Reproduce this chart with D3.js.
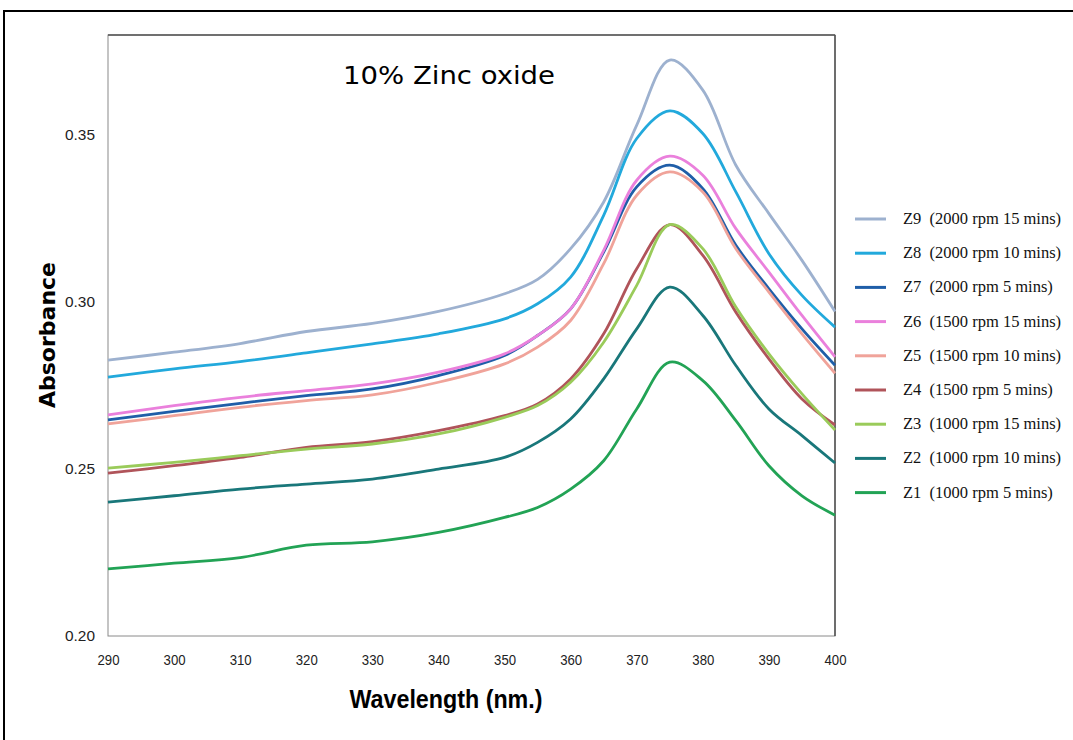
<html>
<head>
<script src="https://cdn.jsdelivr.net/npm/d3@7"></script>
<style>
    body { margin: 0; background: white; }
</style>
</head>
<body>
<svg id="container" width="1073" height="740">
    <g id="body" />
</svg>
<script>
    // wavelength (nm) sample points shared by all series
    let wavelengths = [290, 300, 310, 320, 330, 340, 350, 355, 360, 365, 370, 375, 380, 385, 390, 395, 400]

    let z9 = [0.2826, 0.2850, 0.2876, 0.2912, 0.2936, 0.2972, 0.3025, 0.3068, 0.3160, 0.3300, 0.3530, 0.3725, 0.3635, 0.3410, 0.3265, 0.3125, 0.2972]
    let z8 = [0.2775, 0.2800, 0.2822, 0.2848, 0.2875, 0.2905, 0.2950, 0.2995, 0.3075, 0.3260, 0.3490, 0.3573, 0.3505, 0.3330, 0.3145, 0.3020, 0.2925]
    let z7 = [0.2647, 0.2673, 0.2697, 0.2720, 0.2740, 0.2780, 0.2840, 0.2900, 0.2980, 0.3150, 0.3345, 0.3410, 0.3340, 0.3170, 0.3040, 0.2920, 0.2811]
    let z6 = [0.2662, 0.2690, 0.2715, 0.2735, 0.2755, 0.2790, 0.2845, 0.2900, 0.2980, 0.3155, 0.3365, 0.3437, 0.3380, 0.3220, 0.3090, 0.2960, 0.2836]
    let z5 = [0.2635, 0.2660, 0.2685, 0.2705, 0.2722, 0.2760, 0.2815, 0.2865, 0.2945, 0.3115, 0.3320, 0.3390, 0.3330, 0.3160, 0.3030, 0.2905, 0.2787]
    let z4 = [0.2488, 0.2510, 0.2535, 0.2565, 0.2582, 0.2615, 0.2660, 0.2695, 0.2770, 0.2905, 0.3100, 0.3232, 0.3140, 0.2970, 0.2830, 0.2710, 0.2632]
    let z3 = [0.2503, 0.2520, 0.2540, 0.2560, 0.2575, 0.2605, 0.2655, 0.2690, 0.2760, 0.2880, 0.3050, 0.3232, 0.3160, 0.2985, 0.2845, 0.2725, 0.2617]
    let z2 = [0.2401, 0.2420, 0.2440, 0.2455, 0.2470, 0.2500, 0.2535, 0.2580, 0.2650, 0.2770, 0.2920, 0.3045, 0.2960, 0.2810, 0.2680, 0.2600, 0.2518]
    let z1 = [0.2201, 0.2218, 0.2235, 0.2272, 0.2282, 0.2310, 0.2355, 0.2385, 0.2440, 0.2525, 0.2680, 0.2820, 0.2765, 0.2645, 0.2510, 0.2420, 0.2362]

    let seriesNames = ["Z9  (2000 rpm 15 mins)", "Z8  (2000 rpm 10 mins)", "Z7  (2000 rpm 5 mins)",
        "Z6  (1500 rpm 15 mins)", "Z5  (1500 rpm 10 mins)", "Z4  (1500 rpm 5 mins)",
        "Z3  (1000 rpm 15 mins)", "Z2  (1000 rpm 10 mins)", "Z1  (1000 rpm 5 mins)"]
    let seriesValues = [z9, z8, z7, z6, z5, z4, z3, z2, z1]
    let seriesColors = ["#9db1cf", "#22a9dc", "#1f5ea8", "#ea80dc", "#f0a39a", "#b0545a", "#9acb5a", "#19777a", "#22a355"]

    let xTicks = [290, 300, 310, 320, 330, 340, 350, 360, 370, 380, 390, 400]
    let yTicks = [0.20, 0.25, 0.30, 0.35]

    let svg = d3.select("#container")
    let body = d3.select("#body")

    let plotLeft = 108, plotTop = 35, plotRight = 835, plotBottom = 636

    // outer frame
    svg.insert("rect", "#body")
        .attr("x", 4).attr("y", 11)
        .attr("width", 1200).attr("height", 900)
        .attr("fill", "none").attr("stroke", "black").attr("stroke-width", 2)

    let x = d3.scaleLinear().domain([290, 400]).range([plotLeft, plotRight])
    let y = d3.scaleLinear().domain([0.20, 0.38]).range([plotBottom, plotTop])

    // plot area border
    body.append("rect")
        .attr("x", plotLeft).attr("y", plotTop)
        .attr("width", plotRight - plotLeft).attr("height", plotBottom - plotTop)
        .attr("fill", "none").attr("stroke", "#8a8a8a").attr("stroke-width", 1)
    body.append("line")
        .attr("x1", plotRight).attr("x2", plotRight).attr("y1", plotTop).attr("y2", plotBottom)
        .attr("stroke", "#333").attr("stroke-width", 1.2)
    body.append("line")
        .attr("x1", plotLeft).attr("x2", plotRight).attr("y1", plotTop).attr("y2", plotTop)
        .attr("stroke", "#555").attr("stroke-width", 1.5)

    let tickFont = "'Liberation Sans', Arial, sans-serif"

    let xAxis = body.append("g")
        .attr("transform", `translate(0, ${plotBottom})`)
        .call(d3.axisBottom(x).tickValues(xTicks).tickSize(0).tickPadding(18).tickFormat(d3.format("d")))
    xAxis.select(".domain").remove()
    xAxis.selectAll("text")
        .attr("font-family", tickFont)
        .attr("font-size", 15).attr("fill", "#222")
        .attr("textLength", 22).attr("lengthAdjust", "spacingAndGlyphs")

    let yAxis = body.append("g")
        .attr("transform", `translate(${plotLeft}, 0)`)
        .call(d3.axisLeft(y).tickValues(yTicks).tickSize(0).tickPadding(13).tickFormat(d3.format(".2f")))
    yAxis.select(".domain").remove()
    yAxis.selectAll("text")
        .attr("font-family", tickFont)
        .attr("font-size", 15).attr("fill", "#222")
        .attr("textLength", 30).attr("lengthAdjust", "spacingAndGlyphs")

    let line = d3.line()
        .x((d, i) => x(wavelengths[i]))
        .y(d => y(d))
        .curve(d3.curveCatmullRom.alpha(0.5))

    body.selectAll(".series").data(seriesValues)
        .enter().append("path")
        .attr("class", "series")
        .attr("d", d => line(d))
        .attr("fill", "none")
        .attr("stroke", (d, i) => seriesColors[i])
        .attr("stroke-width", 2.8)

    // title inside plot
    body.append("text")
        .attr("x", 449).attr("y", 84)
        .attr("text-anchor", "middle")
        .attr("font-family", "'DejaVu Sans', sans-serif")
        .attr("font-size", 25)
        .attr("textLength", 212).attr("lengthAdjust", "spacingAndGlyphs")
        .text("10% Zinc oxide")

    body.append("text")
        .attr("x", 446).attr("y", 708)
        .attr("text-anchor", "middle")
        .attr("font-family", "'Liberation Sans', Arial, sans-serif")
        .attr("font-weight", "bold")
        .attr("font-size", 25)
        .attr("textLength", 193).attr("lengthAdjust", "spacingAndGlyphs")
        .text("Wavelength (nm.)")

    body.append("text")
        .attr("transform", "translate(55, 335) rotate(-90)")
        .attr("text-anchor", "middle")
        .attr("font-family", "'DejaVu Sans', sans-serif")
        .attr("font-weight", "bold")
        .attr("font-size", 21)
        .attr("textLength", 146).attr("lengthAdjust", "spacingAndGlyphs")
        .text("Absorbance")

    // legend
    let legend = body.selectAll(".legend").data(seriesNames)
        .enter().append("g")
        .attr("class", "legend")
        .attr("transform", (d, i) => `translate(855, ${219 + i * 34.2})`)
    legend.append("line")
        .attr("x1", 0).attr("x2", 31)
        .attr("stroke", (d, i) => seriesColors[i])
        .attr("stroke-width", 3)
    legend.append("text")
        .attr("x", 48).attr("y", 5)
        .attr("font-family", "'Liberation Serif', 'Times New Roman', serif")
        .attr("font-size", 16.5)
        .attr("fill", "#111")
        .attr("xml:space", "preserve")
        .style("white-space", "pre")
        .text(d => d)
</script>
</body>
</html>
